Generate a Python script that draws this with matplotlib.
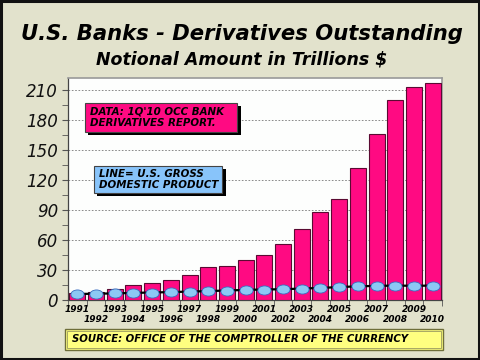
import matplotlib
matplotlib.use('Agg')
import matplotlib.pyplot as plt
import matplotlib.patches as mpatches
import matplotlib.patheffects as pe
from matplotlib.path import Path
from matplotlib.transforms import Affine2D
import numpy as np

years = list(range(1991, 2011))
derivatives = [7, 8.3, 11.3, 15, 16.7, 19.8, 24.8, 32.8, 34.5, 40.5,
               45, 56, 71, 88, 101.5, 132, 166, 200.5, 213.5, 217]
gdp = [6.0, 6.3, 6.6, 7.1, 7.5, 7.9, 8.4, 8.9, 9.5, 10.1,
       10.5, 10.8, 11.4, 12.1, 12.9, 13.7, 14.1, 14.4, 14.2, 14.4]
y_ticks = [0, 30, 60, 90, 120, 150, 180, 210]

bg = '#E2E2CC'
pink = '#FF0A82'

fig = plt.figure(figsize=(4.8, 3.6), dpi=100, facecolor=bg)
ax = fig.add_axes([68 / 480, 1 - 300 / 360, 374 / 480, 222 / 360])
ax.set_facecolor('#FDFEFD')

x = np.arange(len(years))
ax.bar(x, derivatives, width=0.86, color=pink, edgecolor='#5A0A32', linewidth=0.8, zorder=3)

# GDP line with elliptical markers
ellipse = Affine2D().scale(1.45, 1.0).transform_path(Path.unit_circle())
ax.plot(x, gdp, color='black', linewidth=1.6, zorder=4)
ax.plot(x, gdp, linestyle='none', marker=ellipse, markersize=9.5,
        markerfacecolor='#8CC8F4', markeredgecolor='#3A6CC0', markeredgewidth=0.6, zorder=5)

ax.set_xlim(-0.5, len(years) - 0.5)
ax.set_ylim(0, 222)

ax.set_yticks(y_ticks)
ax.set_yticklabels([str(v) for v in y_ticks], fontsize=12, fontstyle='italic', color='#111111')
ax.set_yticks(np.arange(15, 222, 30), minor=True)
ax.tick_params(axis='y', which='both', direction='out', length=4, color='#555555', pad=3)
ax.yaxis.grid(True, linestyle=(0, (2, 2)), color='#777777', linewidth=0.6, zorder=1)
ax.set_axisbelow(True)

# year labels: odd years on the first row, even years lower
ax.set_xticks([])
ax.set_xticks(np.arange(-0.5, len(years), 1), minor=True)
ax.tick_params(axis='x', which='minor', direction='out', length=4, color='#555555', labelbottom=False)
for i, yr in enumerate(years):
    off = -10 if i % 2 == 0 else -19
    ax.annotate(str(yr), xy=(i, 0), xycoords=('data', 'axes fraction'),
                xytext=(0, off), textcoords='offset pixels', ha='center', va='center',
                fontsize=6.5, fontweight='bold', fontstyle='italic', annotation_clip=False)

for s in ['left', 'bottom']:
    ax.spines[s].set_color('#444444')
    ax.spines[s].set_linewidth(0.9)
for s in ['top', 'right']:
    ax.spines[s].set_color('#999999')
    ax.spines[s].set_linewidth(1.2)

shadow = [pe.withSimplePatchShadow(offset=(2.5, -2.5), shadow_rgbFace='black', alpha=1.0)]

# annotation boxes
box1 = mpatches.Rectangle((0.41, 168), 8.13, 29, facecolor=pink, edgecolor='#444444',
                          linewidth=0.8, zorder=6, path_effects=shadow)
ax.add_patch(box1)
ax.text(0.7, 182.5, "DATA: 1Q'10 OCC BANK\nDERIVATIVES REPORT.", fontsize=7.4,
        fontweight='bold', fontstyle='italic', va='center', ha='left', zorder=7, linespacing=1.15)

box2 = mpatches.Rectangle((0.89, 107), 6.85, 27, facecolor='#88C4FA', edgecolor='#444444',
                          linewidth=0.8, zorder=6, path_effects=shadow)
ax.add_patch(box2)
ax.text(1.15, 120.5, "LINE= U.S. GROSS\nDOMESTIC PRODUCT", fontsize=7.4,
        fontweight='bold', fontstyle='italic', va='center', ha='left', zorder=7, linespacing=1.15)

# titles
fig.text(0.503, 0.905, 'U.S. Banks - Derivatives Outstanding', fontsize=15.2,
         fontweight='bold', fontstyle='italic', ha='center', va='center')
fig.text(0.503, 0.836, 'Notional Amount in Trillions $', fontsize=12.5,
         fontweight='bold', fontstyle='italic', ha='center', va='center')

# source box
src = mpatches.Rectangle((65 / 480, 1 - 350 / 360), 378 / 480, 21 / 360, transform=fig.transFigure,
                         facecolor='#FFFF80', edgecolor='#6E6E3A', linewidth=1.0)
fig.patches.append(src)
src_in = mpatches.Rectangle((67 / 480, 1 - 348 / 360), 374 / 480, 17 / 360, transform=fig.transFigure,
                            facecolor='none', edgecolor='#9A9A60', linewidth=0.6)
fig.patches.append(src_in)
fig.text(72 / 480, 1 - 339.5 / 360, 'SOURCE: OFFICE OF THE COMPTROLLER OF THE CURRENCY',
         fontsize=7.3, fontweight='bold', fontstyle='italic', ha='left', va='center')

# outer frame
frame = mpatches.Rectangle((0.002, 0.003), 0.996, 0.994, transform=fig.transFigure,
                           facecolor='none', edgecolor='#111111', linewidth=2.2)
fig.patches.append(frame)

fig.savefig('out.png', dpi=100, facecolor=bg)
